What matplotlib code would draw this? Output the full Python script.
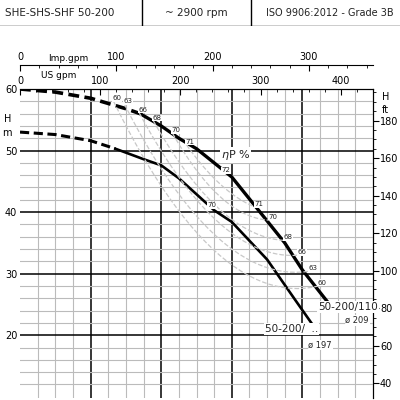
import numpy as np
import matplotlib.pyplot as plt

# flow in m3/h, head in m
q_209_dash = [0, 10, 20, 30, 34]
h_209_dash = [60, 59.5, 58.5, 56.8, 56.0]
q_209 = [34, 40, 45, 50, 60, 68, 75, 80, 87]
h_209 = [56.0, 54.0, 52.0, 50.3, 45.7, 40.0, 35.0, 30.6, 25.5]
q_197_dash = [0, 10, 20, 27]
h_197_dash = [53.0, 52.6, 51.6, 50.3]
q_197 = [27, 35, 40, 45, 55, 60, 70, 78, 84]
h_197 = [50.3, 48.6, 47.6, 45.5, 40.3, 38.4, 32.3, 25.7, 20.8]
# efficiency labels along the 209 curve
eff_q = [27.5, 30.6, 34.8, 38.8, 44.2, 48.2, 58.4, 67.7, 71.7, 75.9, 79.9, 83.0, 85.6]
eff_h = [58.5, 58.0, 56.6, 55.3, 53.3, 51.4, 46.8, 41.3, 39.2, 35.9, 33.5, 30.9, 28.5]
eff_lab = ["60", "63", "66", "68", "70", "71", "72", "71", "70", "68", "66", "63", "60"]

fig = plt.figure(figsize=(4, 4), dpi=100)
plt.rcParams["font.family"] = "DejaVu Sans"

# header boxes
hd = fig.add_axes([0, 0.935, 1, 0.065])
hd.set_xlim(0, 400)
hd.set_ylim(0, 1)
hd.axis("off")
hd.plot([0, 400], [0, 0], color="black", lw=1)
for x in [142, 251]:
    hd.plot([x, x], [0, 1], color="black", lw=1)
hd.text(5, 0.5, "SHE-SHS-SHF 50-200", va="center", fontsize=7.5, color="#222")
hd.text(196, 0.5, "~ 2900 rpm", va="center", ha="center", fontsize=7.5, color="#222")
hd.text(266, 0.5, "ISO 9906:2012 - Grade 3B", va="center", fontsize=7, color="#222")

ax = fig.add_axes([0.05, 0.005, 0.8825, 0.7725])
ax.set_xlim(0, 100)
ax.set_ylim(9.8, 60)
for q in np.arange(5, 100, 5):
    major = q % 20 == 0
    ax.axvline(q, color="black" if major else "#bbbbbb", lw=1.1 if major else 0.8, zorder=1)
for h in np.arange(12, 60, 2):
    major = h % 10 == 0
    ax.axhline(h, color="black" if major else "#bbbbbb", lw=1.1 if major else 0.8, zorder=1)

ax.plot(q_209_dash, h_209_dash, "k--", lw=2.6, dashes=(3, 1.5))
ax.plot(q_209, h_209, "k-", lw=2.4)
ax.plot(q_197_dash, h_197_dash, "k--", lw=2.2, dashes=(3, 1.5))
ax.plot(q_197, h_197, "k-", lw=1.9)

# iso-efficiency arcs
pairs = [(0, 12, 24), (1, 11, 28), (2, 10, 32), (3, 9, 36), (4, 8, 39), (5, 7, 43)]
for a, b, low in pairs:
    qa, ha = eff_q[a] - 1, eff_h[a] - 0.5
    qb, hb = eff_q[b] - 1, eff_h[b] - 0.5
    t = np.linspace(0, 1, 30)
    qm = (qa + qb) / 2
    qq = (1 - t) ** 2 * qa + 2 * t * (1 - t) * qm + t ** 2 * qb
    hh = (1 - t) ** 2 * ha + 2 * t * (1 - t) * low + t ** 2 * hb
    ax.plot(qq, hh, color="#c8c8c8", ls="--", lw=0.9, zorder=2)
for q, h, s in zip(eff_q, eff_h, eff_lab):
    ax.text(q, h, s, fontsize=5, color="#222", zorder=4, ha="center", va="center",
            bbox=dict(fc="white", ec="none", pad=0.3))
ax.text(54.4, 41.1, "70", fontsize=5, color="#222", zorder=4, ha="center", va="center",
        bbox=dict(fc="white", ec="none", pad=0.3))
ax.text(61, 49.3, r"$\eta$P %", fontsize=8, color="#222", zorder=4, ha="center",
        va="center", bbox=dict(fc="white", ec="none", pad=0.5))

ax.text(92.9, 24.6, "50-200/110", fontsize=7.5, color="#222", ha="center", va="center",
        zorder=4, bbox=dict(fc="white", ec="none", pad=0.5))
ax.text(95.5, 22.4, "ø 209", fontsize=6, color="#222", ha="center", va="center",
        zorder=4, bbox=dict(fc="white", ec="none", pad=0.5))
ax.text(77, 21, "50-200/  ..", fontsize=7.5, color="#222", ha="center", va="center",
        zorder=4, bbox=dict(fc="white", ec="none", pad=0.5))
ax.text(85, 18.4, "ø 197", fontsize=6, color="#222", ha="center", va="center",
        zorder=4, bbox=dict(fc="white", ec="none", pad=0.5))

ax.set_yticks([20, 30, 40, 50, 60])
ax.set_xticks([])
ax.tick_params(axis="y", labelsize=7, length=0, pad=2)
ax.text(-2.5, 56, "H\nm", fontsize=7, ha="right", va="top", linespacing=1.6)
for s in ["bottom", "left"]:
    ax.spines[s].set_visible(False)

ft = ax.secondary_yaxis("right", functions=(lambda h: h * 3.2808, lambda f: f / 3.2808))
ft.set_yticks(np.arange(40, 200, 20))
ft.set_yticks(np.arange(40, 200, 5), minor=True)
ft.tick_params(labelsize=7, length=4, pad=1)
ft.tick_params(which="minor", length=2)
ax.text(102.5, 59.5, "H\nft", fontsize=7, va="top", linespacing=1.4)

us = ax.secondary_xaxis("top", functions=(lambda q: q * 4.403, lambda g: g / 4.403))
us.set_xticks(np.arange(0, 441, 100))
us.set_xticks(np.arange(0, 441, 20), minor=True)
us.tick_params(direction="in", labelsize=7, length=4, pad=2)
us.tick_params(which="minor", direction="in", length=2)
ax.text(6, 61.8, "US gpm", fontsize=6.5)

imp = fig.add_axes([0.05, 0.8375, 0.8825, 0.0001])
imp.set_xlim(0, 100 * 3.666)
imp.set_yticks([])
for s in ["bottom", "left", "right"]:
    imp.spines[s].set_visible(False)
imp.xaxis.tick_top()
imp.set_xticks(np.arange(0, 361, 100))
imp.set_xticks(np.arange(0, 361, 20), minor=True)
imp.tick_params(direction="in", labelsize=7, length=4, pad=2)
imp.tick_params(which="minor", direction="in", length=2)
fig.text(0.12, 0.848, "Imp.gpm", fontsize=6.5)

fig.savefig("out.png", dpi=100)
